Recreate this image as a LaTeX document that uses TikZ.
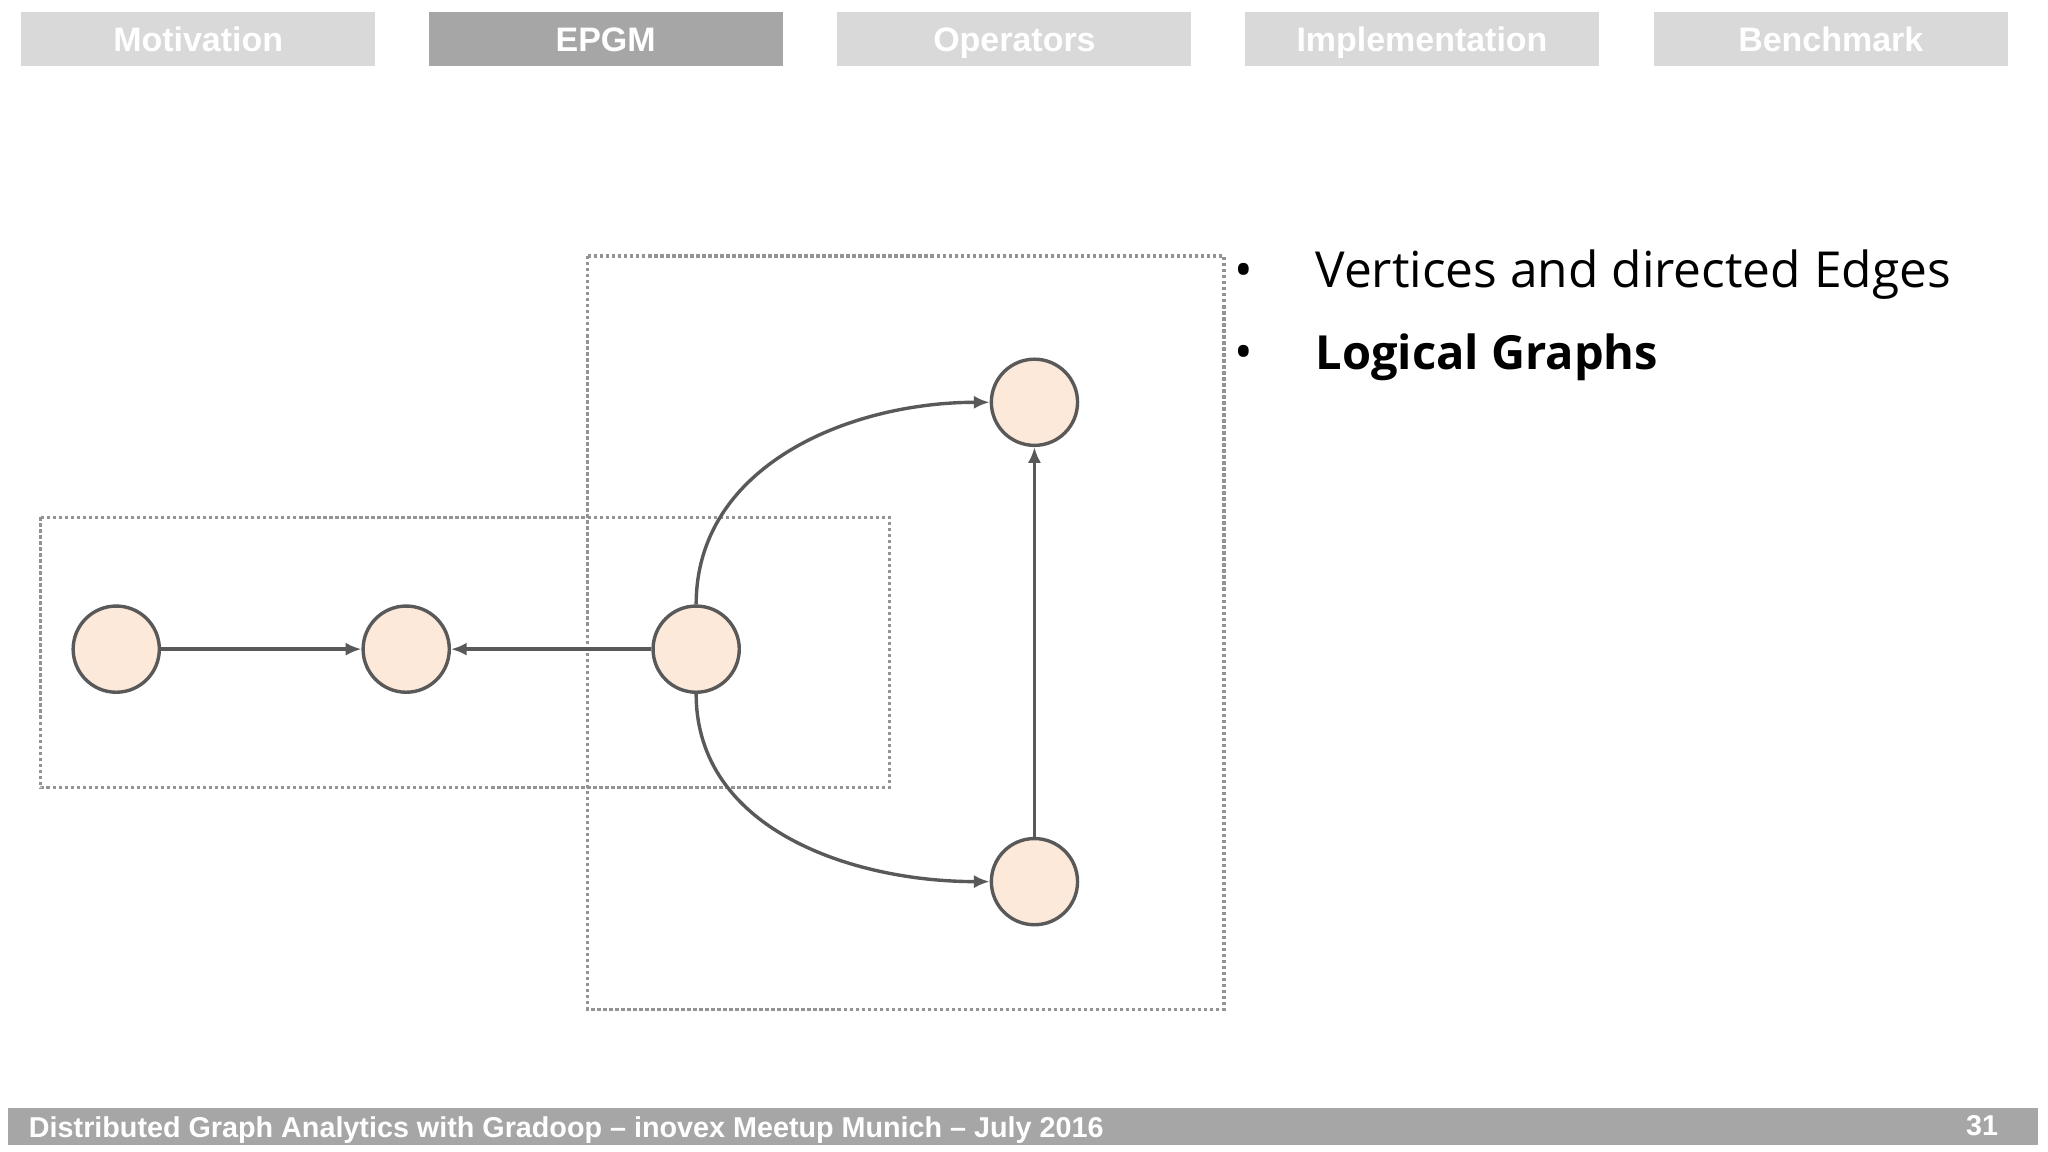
\documentclass[tikz,border=0pt]{standalone}
\usetikzlibrary{arrows.meta}
\usepackage{fontspec}
\setmainfont{Open Sans}
\newfontfamily\arialf{Liberation Sans}
\definecolor{tabg}{HTML}{D9D9D9}
\definecolor{tabd}{HTML}{A6A6A6}
\definecolor{edgec}{HTML}{595959}
\definecolor{vfill}{HTML}{FDE9D9}
\begin{document}
\begin{tikzpicture}[x=1pt,y=-1pt,
  tab/.style={fill=tabg,draw=none,minimum width=271pt,minimum height=41pt,anchor=north west,inner sep=0pt,text=white,text height=22pt,text depth=2pt,font=\arialf\bfseries\fontsize{26}{28}\selectfont},
  vert/.style={circle,draw=edgec,fill=vfill,line width=2.6pt,minimum size=66pt,inner sep=0pt},
  edge/.style={draw=edgec,line width=2.6pt,-{Latex[length=12pt,width=10pt]}},
  group/.style={draw=gray!85,line width=2.6pt,dash pattern=on 2.6pt off 2pt}]
\useasboundingbox (0,0) rectangle (1568,882);
\fill[white] (0,0) rectangle (1568,882);
\node[tab] (t1) at (16,9) {Motivation};
\node[tab,fill=tabd] (t2) at (328,9) {EPGM};
\node[tab] (t3) at (641,9) {Operators};
\node[tab] (t4) at (953,9) {Implementation};
\node[tab] (t5) at (1266,9) {Benchmark};
\fill[tabd] (6,848) rectangle (1560,877);
\node[anchor=base west,text=white,font=\arialf\bfseries\fontsize{22}{24}\selectfont,inner sep=0pt] (foot) at (22,871) {Distributed Graph Analytics with Gradoop – inovex Meetup Munich – July 2016};
\node[anchor=base east,text=white,font=\arialf\bfseries\fontsize{22}{24}\selectfont,inner sep=0pt] (pg) at (1530,869) {31};
\draw[group] (450,196) rectangle (937,773);
\draw[group] (31,396) rectangle (681,603);
\node[vert] (a) at (89,497) {};
\node[vert] (b) at (311,497) {};
\node[vert] (c) at (533,497) {};
\node[vert] (d) at (792,308) {};
\node[vert] (e) at (792,675) {};
\draw[edge] (a) -- (b);
\draw[edge] (c) -- (b);
\draw[edge] (c.north) to[out=90,in=180] (d.west);
\draw[edge] (c.south) to[out=-90,in=180] (e.west);
\draw[edge] (e) -- (d);
\node[anchor=base west,inner sep=0pt,font=\fontsize{38}{44}\selectfont] (bl1) at (945,220) {•};
\node[anchor=base west,inner sep=0pt,font=\fontsize{38}{44}\selectfont] (bl2) at (945,283) {•};
\node[anchor=base west,inner sep=0pt,font=\fontsize{38}{44}\selectfont] (l1) at (1007,220) {Vertices and directed Edges};
\node[anchor=base west,inner sep=0pt,font=\bfseries\fontsize{36}{44}\selectfont] (l2) at (1007,283) {Logical Graphs};
\end{tikzpicture}
\end{document}
